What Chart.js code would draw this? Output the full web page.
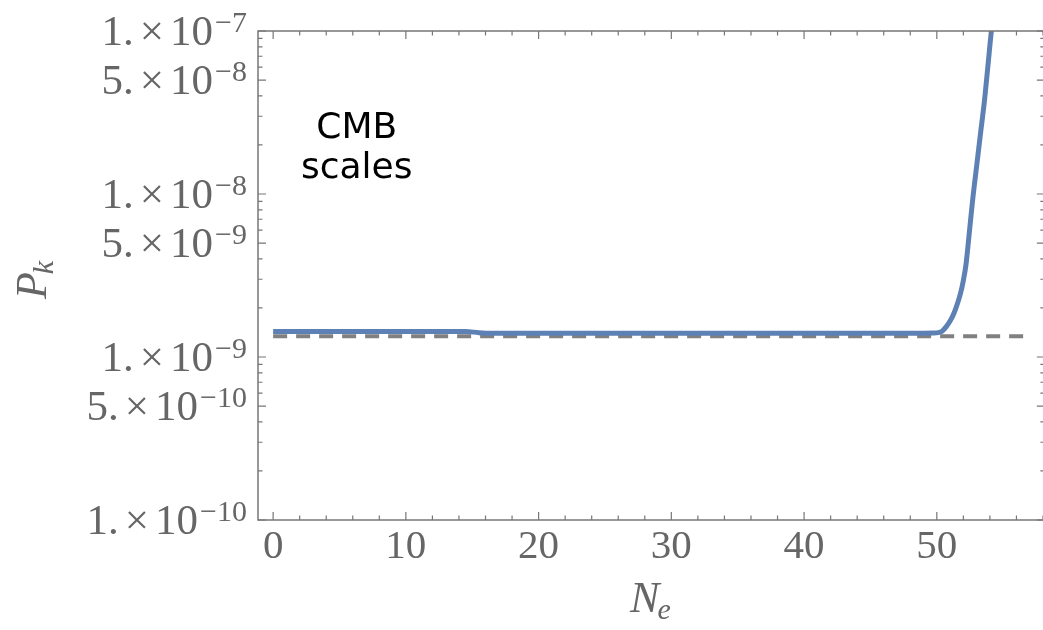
<!DOCTYPE html>
<html>
<head>
<meta charset="utf-8">
<script src="https://cdn.jsdelivr.net/npm/chart.js@4.4.0/dist/chart.umd.min.js"></script>
<style>
  html, body { margin: 0; padding: 0; background: #fff; overflow: hidden; }
  #wrap { width: 1046px; height: 630px; }
</style>
</head>
<body>
<div id="wrap"><canvas id="myChart"></canvas></div>
<script>
// P_k against N_e
var efolds = [0, 5, 10, 14.5, 15.5, 16.5, 20, 30, 40, 48, 49, 49.7, 50.1, 50.4, 50.7, 51.0, 51.3, 51.55, 51.8, 52.0, 52.2, 52.45, 52.7, 53.0, 53.3, 53.6, 53.85, 54.1, 54.4];
var powerSpectrum = [1.436e-9, 1.436e-9, 1.436e-9, 1.434e-9, 1.41e-9, 1.40e-9, 1.40e-9, 1.40e-9, 1.40e-9, 1.40e-9, 1.40e-9, 1.402e-9, 1.41e-9, 1.44e-9, 1.53e-9, 1.66e-9, 1.86e-9, 2.12e-9, 2.48e-9, 2.95e-9, 3.7e-9, 5.8e-9, 9.2e-9, 1.48e-8, 2.38e-8, 3.8e-8, 6.1e-8, 9.8e-8, 1.5e-7];

// observed CMB amplitude (dashed)
var referenceN = [0, 57];
var referenceP = [1.34e-9, 1.34e-9];

// axis ticks
var xTickLabels = [0, 10, 20, 30, 40, 50];
var yLabelValues = [1e-10, 5e-10, 1e-9, 5e-9, 1e-8, 5e-8, 1e-7];
var yLabelMantissa = ['1.', '5.', '1.', '5.', '1.', '5.', '1.'];
var yLabelExponent = ['\u221210', '\u221210', '\u22129', '\u22129', '\u22128', '\u22128', '\u22127'];

var axisGray = '#777777';
var labelGray = '#666666';
var serif = '"Liberation Serif", "Times New Roman", Times, serif';

function toPoints(xs, ys) {
    return xs.map(function (x, i) { return { x: x, y: ys[i] }; });
}

// Mathematica-like frame: inward ticks on all four sides, superscript labels
var framePlugin = {
    id: 'frame',
    afterDraw: function (chart) {
        var ctx = chart.ctx, a = chart.chartArea;
        var xs = chart.scales.x, ys = chart.scales.y;
        ctx.save();
        ctx.strokeStyle = axisGray;
        ctx.lineWidth = 1.5;
        ctx.strokeRect(a.left, a.top, a.right - a.left, a.bottom - a.top);

        ctx.lineWidth = 1.2;
        ctx.beginPath();
        xs.ticks.forEach(function (t) {
            var px = xs.getPixelForValue(t.value);
            var len = t.value % 10 === 0 ? 8 : 4.5;
            ctx.moveTo(px, a.bottom); ctx.lineTo(px, a.bottom - len);
            ctx.moveTo(px, a.top); ctx.lineTo(px, a.top + len);
        });
        ys.ticks.forEach(function (t) {
            var py = ys.getPixelForValue(t.value);
            var m = Math.round(t.value / Math.pow(10, Math.floor(Math.log10(t.value) + 1e-9)));
            var len = (m === 1 || m === 5) ? 8 : 4.5;
            ctx.moveTo(a.left, py); ctx.lineTo(a.left + len, py);
            ctx.moveTo(a.right, py); ctx.lineTo(a.right - len, py);
        });
        ctx.stroke();

        // y tick labels  m.×10^e
        ctx.fillStyle = labelGray;
        ctx.textAlign = 'left';
        ctx.textBaseline = 'alphabetic';
        yLabelValues.forEach(function (v, i) {
            var py = ys.getPixelForValue(v);
            ctx.font = '30px ' + serif;
            var ew = ctx.measureText(yLabelExponent[i]).width;
            var right = a.left - 11;
            ctx.fillText(yLabelExponent[i], right - ew, py + 1);
            ctx.font = '43px ' + serif;
            var parts = [yLabelMantissa[i], '\u00d7', '10'];
            var gaps = [6, 6, 0];
            var widths = parts.map(function (p) { return ctx.measureText(p).width; });
            var total = widths[0] + widths[1] + widths[2] + gaps[0] + gaps[1];
            var x = right - ew - 2 - total;
            parts.forEach(function (p, k) {
                ctx.fillText(p, x, py + 14);
                x += widths[k] + gaps[k];
            });
        });

        // axis titles
        ctx.fillStyle = labelGray;
        ctx.font = 'italic 44px ' + serif;
        var nw = ctx.measureText('N').width;
        ctx.font = 'italic 30px ' + serif;
        var subw = ctx.measureText('e').width;
        var cx = (a.left + a.right) / 2 - (nw + subw) / 2;
        ctx.font = 'italic 44px ' + serif;
        ctx.fillText('N', cx, 612);
        ctx.font = 'italic 30px ' + serif;
        ctx.fillText('e', cx + nw - 2, 619);

        ctx.save();
        ctx.translate(46, 279);
        ctx.rotate(-Math.PI / 2);
        ctx.font = 'italic 44px ' + serif;
        var pw = ctx.measureText('P').width;
        ctx.font = 'italic 30px ' + serif;
        var kw = ctx.measureText('k').width;
        var sx = -(pw + kw) / 2;
        ctx.font = 'italic 44px ' + serif;
        ctx.fillText('P', sx, 0);
        ctx.font = 'italic 30px ' + serif;
        ctx.fillText('k', sx + pw - 2, 7);
        ctx.restore();

        // annotation
        ctx.fillStyle = '#000';
        ctx.font = '36px "DejaVu Sans"';
        ctx.textAlign = 'center';
        var tx = xs.getPixelForValue(6.3);
        ctx.fillText('CMB', tx, ys.getPixelForValue(2.2e-8));
        ctx.fillText('scales', tx, ys.getPixelForValue(1.25e-8));
        ctx.restore();
    }
};

var ctx = document.getElementById('myChart').getContext('2d');

var myChart = new Chart(ctx, {
    type: 'scatter',
    data: {
        datasets: [{
            label: 'P_k',
            data: toPoints(efolds, powerSpectrum),
            showLine: true,
            borderColor: '#5E81B5',
            borderWidth: 5,
            pointRadius: 0,
            cubicInterpolationMode: 'monotone',
            order: 1
        }, {
            label: 'CMB',
            data: toPoints(referenceN, referenceP),
            showLine: true,
            borderColor: '#808080',
            borderWidth: 4,
            borderDash: [14, 9],
            pointRadius: 0,
            order: 2
        }]
    },
    options: {
        responsive: true,
        maintainAspectRatio: false,
        animation: false,
        layout: { padding: { top: 31, right: 0, left: 0, bottom: 0 } },
        plugins: { legend: { display: false }, tooltip: { enabled: false } },
        scales: {
            x: {
                type: 'linear',
                min: -1.14,
                max: 58.14,
                grid: { display: false, drawTicks: false },
                border: { display: false },
                afterBuildTicks: function (scale) {
                    var t = [];
                    for (var v = 0; v <= 58; v += 2) t.push({ value: v });
                    scale.ticks = t;
                },
                afterFit: function (scale) { scale.height = 110; },
                ticks: {
                    autoSkip: false,
                    maxRotation: 0,
                    padding: 3,
                    color: labelGray,
                    font: { family: serif, size: 41 },
                    callback: function (v) { return xTickLabels.indexOf(v) >= 0 ? String(v) : ''; }
                }
            },
            y: {
                type: 'logarithmic',
                min: 1e-10,
                max: 1e-7,
                grid: { display: false, drawTicks: false },
                border: { display: false },
                afterBuildTicks: function (scale) {
                    var t = [];
                    for (var e = -10; e <= -8; e++) {
                        for (var m = 1; m <= 9; m++) t.push({ value: m * Math.pow(10, e) });
                    }
                    t.push({ value: 1e-7 });
                    scale.ticks = t;
                },
                afterFit: function (scale) { scale.width = 258; },
                ticks: { display: false }
            }
        }
    },
    plugins: [framePlugin]
});
</script>
</body>
</html>
